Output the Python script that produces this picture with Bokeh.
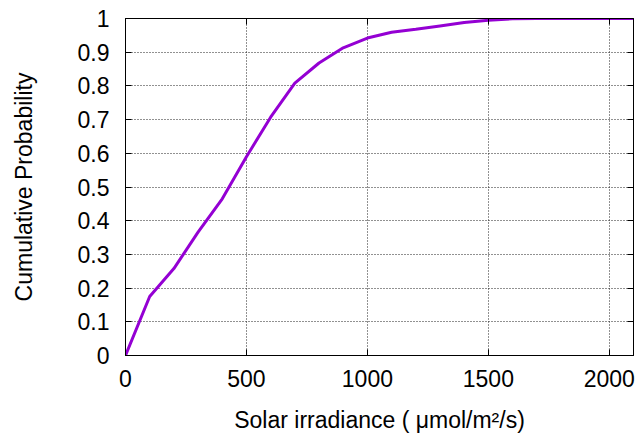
from bokeh.plotting import figure
from bokeh.models import LinearAxis, FixedTicker, Range1d, CustomJSTickFormatter
from bokeh.embed import file_html
from bokeh.resources import INLINE

# Data
irradiance = [0, 100, 200, 300, 400, 500, 600, 700, 800, 900, 1000, 1100,
              1200, 1300, 1400, 1500, 1600, 1700, 1800, 1900, 2000, 2100]
cum_prob = [0.0, 0.175, 0.258, 0.366, 0.465, 0.59, 0.707, 0.808, 0.868, 0.913,
            0.942, 0.959, 0.968, 0.978, 0.988, 0.995, 0.999, 1.0, 1.0, 1.0, 1.0, 1.0]

x_ticks = [0, 500, 1000, 1500, 2000]
x_tick_labels = ["0", "500", "1000", "1500", "2000"]
y_ticks = [0, 0.1, 0.2, 0.3, 0.4, 0.5, 0.6, 0.7, 0.8, 0.9, 1]
y_tick_labels = ["0", "0.1", "0.2", "0.3", "0.4", "0.5", "0.6", "0.7", "0.8", "0.9", "1"]

FONT = "Liberation Sans"
FS = "23px"

p = figure(width=642, height=437, output_backend="svg", toolbar_location=None,
           x_range=Range1d(0, 2100), y_range=Range1d(0, 1),
           min_border_left=125, min_border_right=9, min_border_top=18, min_border_bottom=82)

p.line(irradiance, cum_prob, line_color="#9400D3", line_width=3)

p.outline_line_color = "black"
p.outline_line_width = 1
p.background_fill_color = "white"
p.border_fill_color = "white"

for ax in (p.xaxis[0], p.yaxis[0]):
    ax.major_tick_in = 6
    ax.major_tick_out = 0
    ax.minor_tick_line_color = None
    ax.axis_line_color = "black"
    ax.major_tick_line_color = "black"
    ax.major_label_text_font = FONT
    ax.major_label_text_font_size = FS
    ax.major_label_text_color = "black"
    ax.axis_label_text_font = FONT
    ax.axis_label_text_font_size = FS
    ax.axis_label_text_font_style = "normal"
    ax.axis_label_text_color = "black"

p.xaxis[0].ticker = FixedTicker(ticks=x_ticks)
p.xaxis[0].major_label_overrides = {t: l for t, l in zip(x_ticks, x_tick_labels)}
p.xaxis[0].major_label_standoff = 14
p.xaxis[0].axis_label = "Solar irradiance ( \u03bcmol/m\u00b2/s)"
p.xaxis[0].axis_label_standoff = 17

p.yaxis[0].ticker = FixedTicker(ticks=y_ticks)
p.yaxis[0].major_label_overrides = {t: l for t, l in zip(y_ticks, y_tick_labels)}
p.yaxis[0].major_label_standoff = 16
p.yaxis[0].axis_label = "Cumulative Probability"
p.yaxis[0].axis_label_standoff = 38

blank = CustomJSTickFormatter(code="return ''")
for loc, tk in (("above", x_ticks), ("right", y_ticks)):
    a = LinearAxis(ticker=FixedTicker(ticks=tk), formatter=blank,
                   major_tick_in=6, major_tick_out=0, minor_tick_line_color=None,
                   axis_line_color="black", major_tick_line_color="black",
                   major_label_text_font_size="1px", major_label_standoff=0)
    p.add_layout(a, loc)

p.xgrid.ticker = FixedTicker(ticks=x_ticks)
p.ygrid.ticker = FixedTicker(ticks=y_ticks)
for g in (p.xgrid[0], p.ygrid[0]):
    g.grid_line_color = "#222222"
    g.grid_line_dash = "1 2"
    g.grid_line_width = 1
    g.grid_line_alpha = 1.0

open("out.html", "w").write(file_html(p, INLINE))
